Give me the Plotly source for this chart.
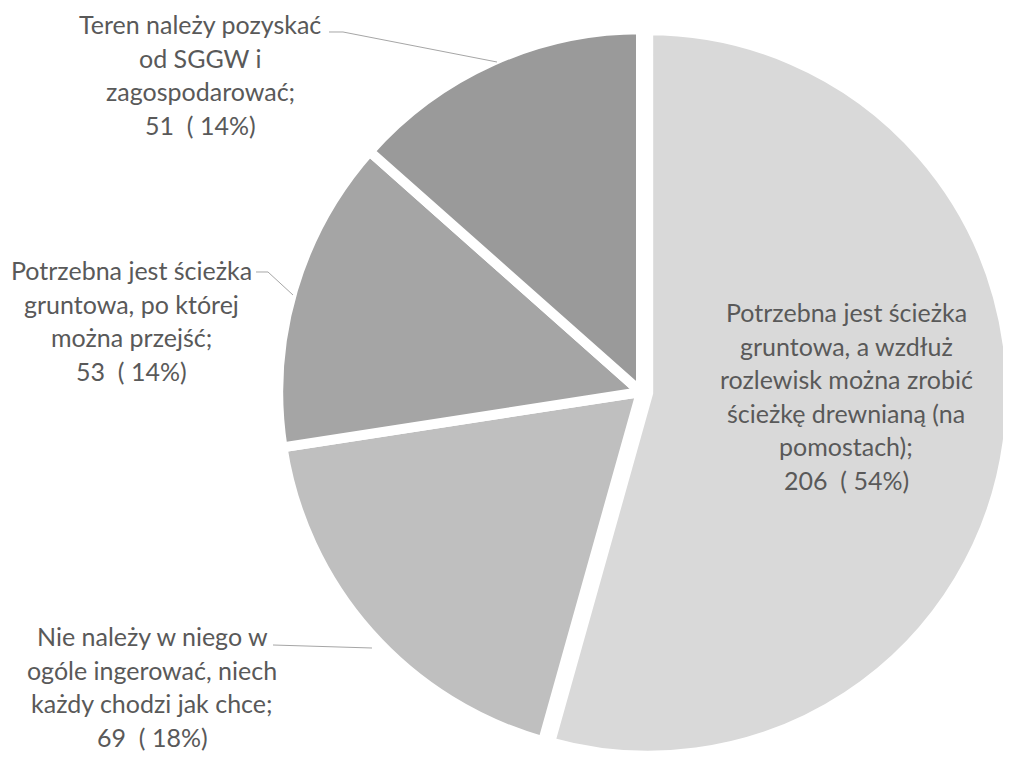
import plotly.graph_objects as go

# ---- data ----
categories = [
    "Potrzebna jest ścieżka gruntowa, a wzdłuż rozlewisk można zrobić ścieżkę drewnianą (na pomostach)",
    "Nie należy w niego w ogóle ingerować, niech każdy chodzi jak chce",
    "Potrzebna jest ścieżka gruntowa, po której można przejść",
    "Teren należy pozyskać od SGGW i zagospodarować",
]
values = [206, 69, 53, 51]
percent_labels = [54, 18, 14, 14]
label_lines = [
    ["Potrzebna jest ścieżka", "gruntowa, a wzdłuż", "rozlewisk można zrobić",
     "ścieżkę drewnianą (na", "pomostach);"],
    ["Nie należy w niego w", "ogóle ingerować, niech", "każdy chodzi jak chce;"],
    ["Potrzebna jest ścieżka", "gruntowa, po której", "można przejść;"],
    ["Teren należy pozyskać", "od SGGW i", "zagospodarować;"],
]

# ---- styles / layout ----
PAGE_OFFSET = 8                      # default body margin of the html page
W, H = 1011 - PAGE_OFFSET, 762 - PAGE_OFFSET
colors = ["#d9d9d9", "#bfbfbf", "#a5a5a5", "#9a9a9a"]
text_color = "#595959"
font_family = "Lato"
font_size = 25
line_gap = 33.5
label_cx = [846, 152, 131, 200]       # screen px, centre of label block
label_first_y = [312, 636, 270, 24]   # screen px, centre of first line
leaders = [
    None,
    [(273, 645), (372, 648)],
    [(256, 272), (268, 272), (293, 295)],
    [(329, 32), (343, 32), (497, 62)],
]

def px(x):
    return (x - PAGE_OFFSET) / W

def py(y):
    return 1 - (y - PAGE_OFFSET) / H

# pie centre (screen px) and box half-size
cx, cy, half = 641, 392, 370
dom_x = [px(cx - half), 1.0]
dom_y = [0.0, min(1.0, 2 * py(cy))]

fig = go.Figure(go.Pie(
    labels=categories,
    values=values,
    sort=False,
    direction="clockwise",
    rotation=0,
    pull=[0.02, 0, 0, 0],
    marker=dict(colors=colors, line=dict(color="white", width=10)),
    textinfo="none",
    hoverinfo="label+value+percent",
    domain=dict(x=dom_x, y=dom_y),
))

annotations = []
for i, lines in enumerate(label_lines):
    all_lines = lines + [f"{values[i]}  ( {percent_labels[i]}%)"]
    for k, t in enumerate(all_lines):
        annotations.append(dict(
            x=px(label_cx[i]), y=py(label_first_y[i] + k * line_gap),
            xref="paper", yref="paper", xanchor="center", yanchor="middle",
            text=t, showarrow=False,
            font=dict(family=font_family, size=font_size, color=text_color),
        ))

shapes = []
for pts in leaders:
    if not pts:
        continue
    path = "M " + " L ".join(f"{px(a):.5f},{py(b):.5f}" for a, b in pts)
    shapes.append(dict(type="path", path=path, xref="paper", yref="paper",
                       line=dict(color="#a6a6a6", width=1)))

fig.update_layout(
    width=W, height=H,
    margin=dict(l=0, r=0, t=0, b=0),
    paper_bgcolor="white",
    plot_bgcolor="white",
    showlegend=False,
    annotations=annotations,
    shapes=shapes,
)

fig.write_html("out.html")
